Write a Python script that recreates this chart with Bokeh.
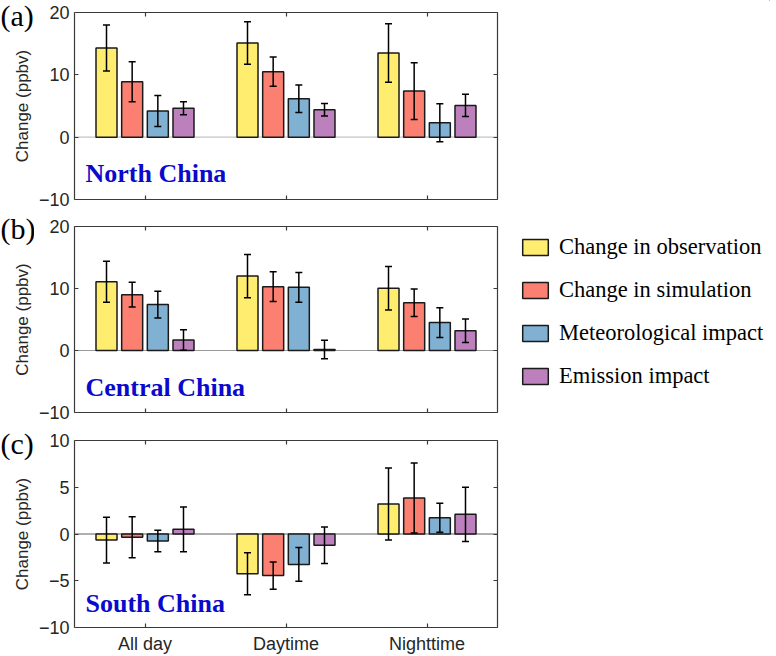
import numpy as np
from bokeh.plotting import figure
from bokeh.models import (ColumnDataSource, Range1d, FixedTicker, LinearAxis, Whisker,
                          TeeHead, Span, Label, Legend, LegendItem)
from bokeh.layouts import row, column
from bokeh.embed import file_html
from bokeh.resources import INLINE

# ---------------- data ----------------
categories = ["All day", "Daytime", "Nighttime"]
series_names = ["Change in observation", "Change in simulation",
                "Meteorological impact", "Emission impact"]
colors = ["#FFED6F", "#FB8072", "#80B1D3", "#BC80BD"]

north_obs = [14.3, 15.1, 13.5]
north_obs_err = [3.7, 3.4, 4.7]
north_sim = [8.9, 10.5, 7.4]
north_sim_err = [3.2, 2.35, 4.55]
north_met = [4.2, 6.15, 2.3]
north_met_err = [2.5, 2.2, 3.05]
north_emi = [4.65, 4.4, 5.1]
north_emi_err = [1.05, 1.0, 1.8]

central_obs = [11.1, 12.0, 10.05]
central_obs_err = [3.3, 3.5, 3.5]
central_sim = [9.0, 10.3, 7.7]
central_sim_err = [2.0, 2.4, 2.2]
central_met = [7.4, 10.2, 4.5]
central_met_err = [2.15, 2.4, 2.4]
central_emi = [1.7, 0.15, 3.2]
central_emi_err = [1.65, 1.5, 1.9]

south_obs = [-0.65, -4.25, 3.2]
south_obs_err = [2.45, 2.25, 3.85]
south_sim = [-0.35, -4.45, 3.85]
south_sim_err = [2.2, 1.45, 3.75]
south_met = [-0.75, -3.25, 1.75]
south_met_err = [1.15, 1.8, 1.55]
south_emi = [0.5, -1.2, 2.1]
south_emi_err = [2.4, 1.95, 2.9]

yticks_ab = [-10, 0, 10, 20]
yticks_c = [-10, -5, 0, 5, 10]
y_label = "Change (ppbv)"
panel_tags = ["(a)", "(b)", "(c)"]
region_names = ["North China", "Central China", "South China"]

# ---------------- style / layout ----------------
OFFSETS = [-0.273, -0.091, 0.091, 0.273]
BAR_W = 0.149
AX_COL = "#3a3a3a"
TXT_COL = "#262626"
SANS = "Liberation Sans"
SERIF = "Liberation Serif"
FRAME_W = 423
TOTAL_H = 654
TAG_W = 34


def style_axis(ax, ticks, show_labels):
    ax.ticker = FixedTicker(ticks=ticks)
    ax.major_tick_in = 4
    ax.major_tick_out = 0
    ax.minor_tick_in = 0
    ax.minor_tick_out = 0
    ax.axis_line_color = AX_COL
    ax.axis_line_width = 1.2
    ax.major_tick_line_color = AX_COL
    ax.major_tick_line_width = 1.2
    ax.major_label_text_color = TXT_COL
    ax.major_label_text_font = SANS
    if show_labels:
        ax.major_label_text_font_size = "18px"
    else:
        ax.major_label_text_font_size = "1px"
        ax.major_label_standoff = 0
        ax.major_label_overrides = {t: "" for t in ticks}


def make_panel(means, errs, ylim, yticks, show_x, zero_color, region, region_y,
               frame_h, b_top, b_bottom):
    p = figure(frame_width=FRAME_W, frame_height=frame_h,
               x_range=Range1d(0.5, 3.5), y_range=Range1d(*ylim),
               output_backend="svg", toolbar_location=None,
               min_border_left=40, min_border_right=5,
               min_border_top=b_top, min_border_bottom=b_bottom,
               background_fill_color="white", border_fill_color="white")
    p.grid.visible = False
    p.outline_line_color = None

    p.add_layout(Span(location=0, dimension="width", line_color=zero_color,
                      line_width=1.2, level="underlay"))

    xs = np.arange(1, len(categories) + 1)
    for k in range(4):
        m = np.array(means[k], dtype=float)
        e = np.array(errs[k], dtype=float)
        src = ColumnDataSource(dict(x=xs + OFFSETS[k], top=m,
                                    upper=m + e, lower=m - e))
        p.vbar(x="x", top="top", bottom=0, width=BAR_W, source=src,
               fill_color=colors[k], line_color="#1a1a1a", line_width=1.5)
        p.add_layout(Whisker(source=src, base="x", upper="upper", lower="lower",
                             line_color="black", line_width=1.5, level="annotation",
                             upper_head=TeeHead(size=7, line_color="black", line_width=1.5),
                             lower_head=TeeHead(size=7, line_color="black", line_width=1.5)))

    xt = [int(v) for v in xs]
    style_axis(p.xaxis[0], xt, show_x)
    if show_x:
        p.xaxis.major_label_overrides = {t: c for t, c in zip(xt, categories)}
        p.xaxis.major_label_standoff = 6
    style_axis(p.yaxis[0], yticks, True)
    p.yaxis.major_label_standoff = 5

    top_ax = LinearAxis()
    style_axis(top_ax, xt, False)
    p.add_layout(top_ax, "above")
    right_ax = LinearAxis()
    style_axis(right_ax, yticks, False)
    p.add_layout(right_ax, "right")

    p.add_layout(Label(x=11, y=region_y, x_units="screen", y_units="screen", text=region,
                       text_font=SERIF, text_font_size="26px", text_font_style="bold",
                       text_color="#0A0ACC", text_baseline="alphabetic"))
    return p


pa = make_panel([north_obs, north_sim, north_met, north_emi],
                [north_obs_err, north_sim_err, north_met_err, north_emi_err],
                (-10, 20), yticks_ab, False, "#c4c4c4", region_names[0], 26,
                187, 12, 13)
pb = make_panel([central_obs, central_sim, central_met, central_emi],
                [central_obs_err, central_sim_err, central_met_err, central_emi_err],
                (-10, 20), yticks_ab, False, "#9a9a9a", region_names[1], 25,
                186, 14, 14)
pc = make_panel([south_obs, south_sim, south_met, south_emi],
                [south_obs_err, south_sim_err, south_met_err, south_emi_err],
                (-10, 10), yticks_c, True, "#606060", region_names[2], 24,
                187, 14, 27)

# left strip: panel tags and y-axis titles
tf = figure(width=TAG_W, height=TOTAL_H, x_range=Range1d(0, 1), y_range=Range1d(0, 1),
            x_axis_type=None, y_axis_type=None, output_backend="svg",
            toolbar_location=None, min_border=0, outline_line_color=None,
            background_fill_color="white", border_fill_color="white")
tf.grid.visible = False
tag_baselines = [14.5, 227.5, 442.5]    # from top of page (px)
frame_centres = [105.5, 319, 533.5]     # from top of page (px)
for tag, tb, fc in zip(panel_tags, tag_baselines, frame_centres):
    tf.add_layout(Label(x=0, y=TOTAL_H - tb, x_units="screen", y_units="screen",
                        text=tag, text_font=SERIF, text_font_size="30px",
                        text_color="black", text_baseline="alphabetic"))
    tf.add_layout(Label(x=22, y=TOTAL_H - fc, x_units="screen", y_units="screen",
                        text=y_label, text_font=SANS, text_font_size="17px",
                        text_color=TXT_COL, text_align="center",
                        text_baseline="middle", angle=np.pi / 2))

# legend strip
lf = figure(width=268, height=TOTAL_H, x_range=Range1d(0, 1), y_range=Range1d(0, 1),
            x_axis_type=None, y_axis_type=None, output_backend="svg",
            toolbar_location=None, min_border=0, outline_line_color=None,
            background_fill_color="white", border_fill_color="white")
lf.grid.visible = False
items = []
for name, col in zip(series_names, colors):
    r = lf.vbar(x=[5], top=[5], bottom=[4], width=0.1, fill_color=col,
                line_color="#1a1a1a", line_width=1.5)
    items.append(LegendItem(label=name, renderers=[r]))
legend = Legend(items=items, location=(17, 265), glyph_width=32, glyph_height=20,
                label_standoff=8, spacing=17, padding=0, margin=0,
                border_line_color=None, background_fill_alpha=0,
                label_text_font=SERIF, label_text_font_size="22.5px",
                label_text_color="black")
lf.add_layout(legend)

layout = row(tf, column(pa, pb, pc), lf)
open("out.html", "w").write(file_html(layout, INLINE))
